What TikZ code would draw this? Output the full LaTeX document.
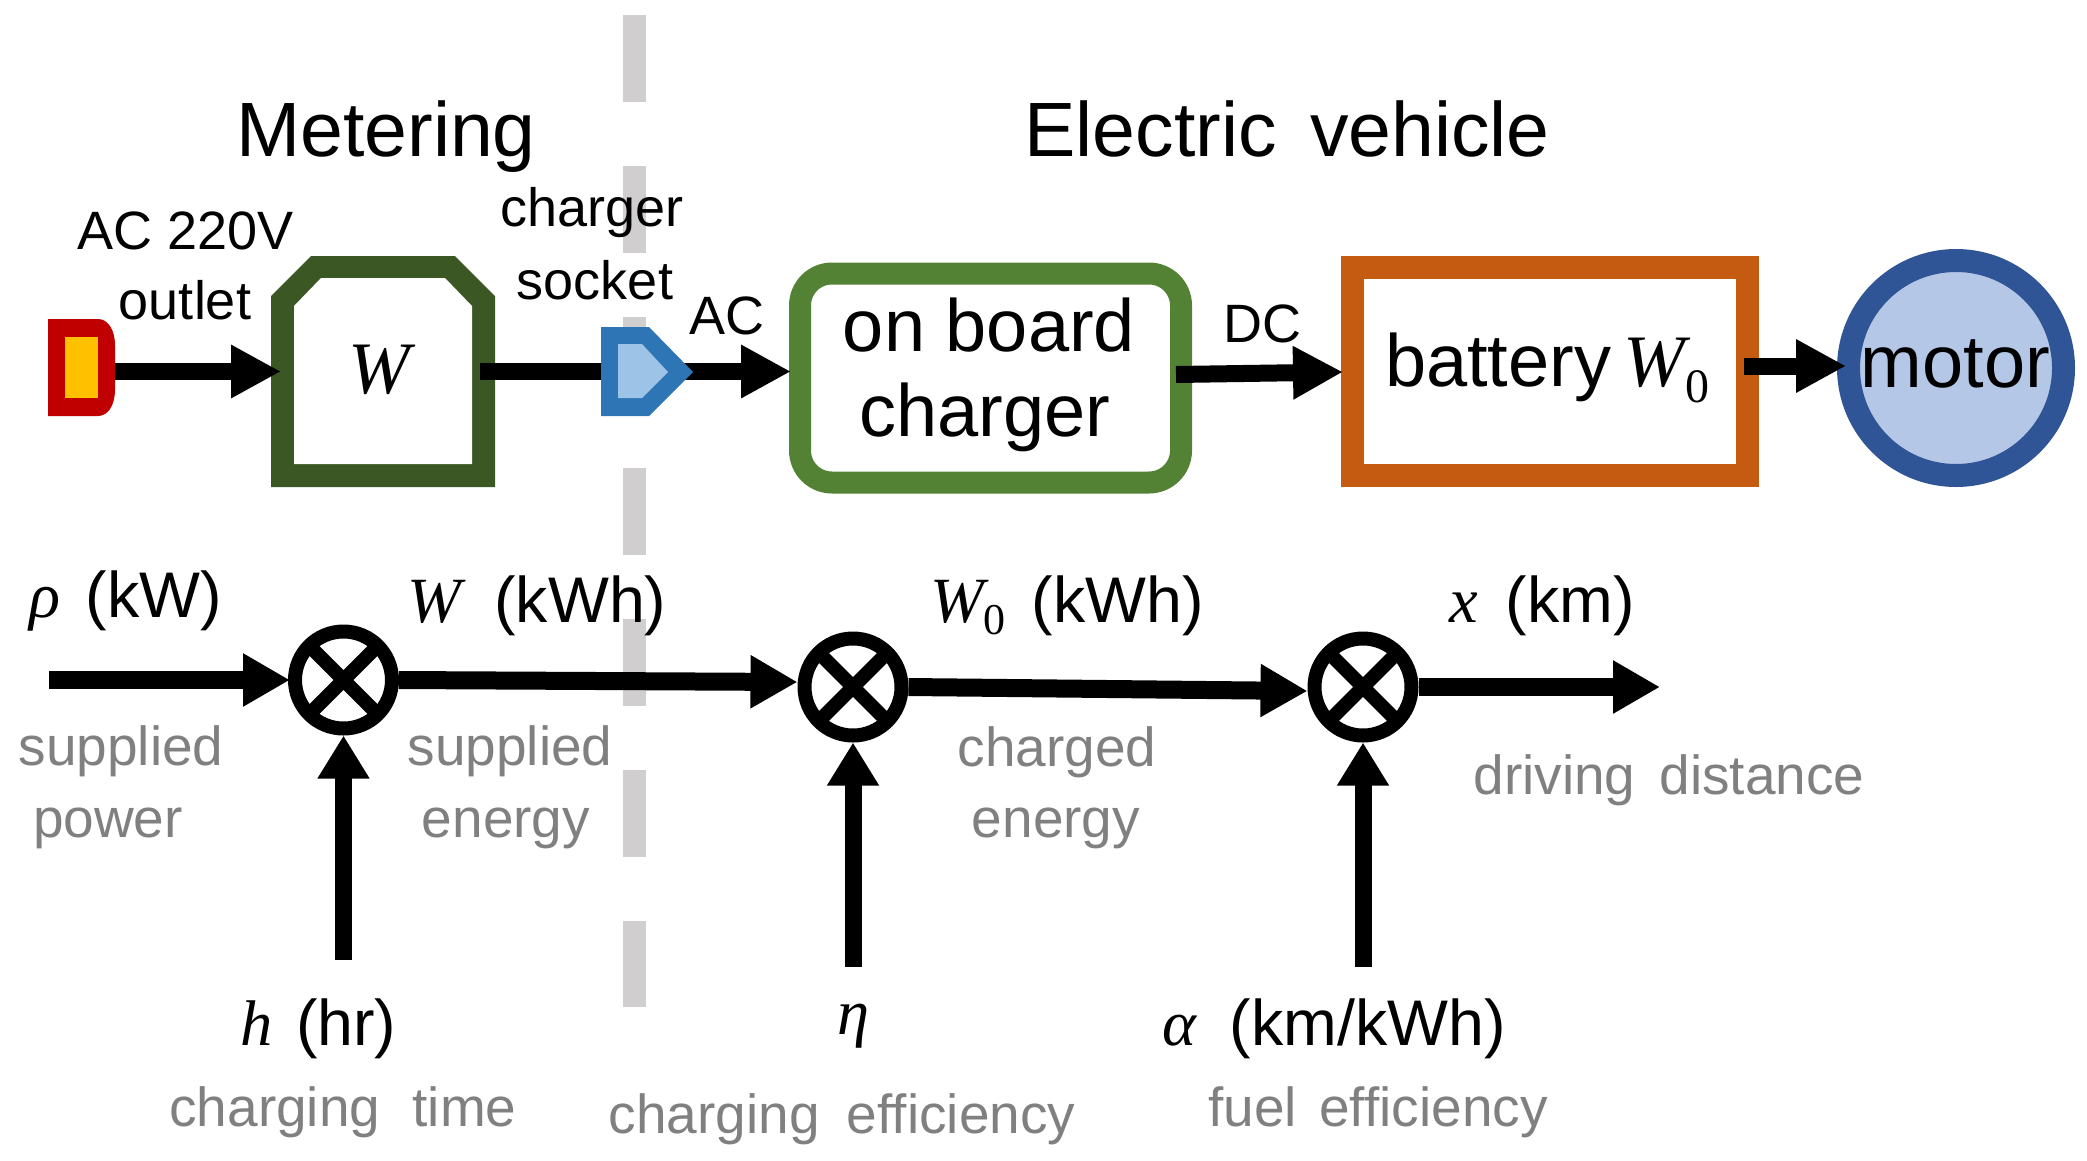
\documentclass[tikz,border=0pt]{standalone}
\usepackage{fontspec}
\setmainfont{Liberation Sans}
\newfontfamily\mathlike{Liberation Serif}
\usetikzlibrary{arrows.meta,calc}
\definecolor{cRed}{HTML}{C00000}
\definecolor{cYel}{HTML}{FFC000}
\definecolor{cWg}{HTML}{3B5724}
\definecolor{cBlu}{HTML}{2E75B6}
\definecolor{cBll}{HTML}{9DC3E6}
\definecolor{cChg}{HTML}{548235}
\definecolor{cBat}{HTML}{C55A11}
\definecolor{cMot}{HTML}{2F5597}
\definecolor{cMol}{HTML}{B4C7E7}
\definecolor{cDash}{HTML}{D0CECE}
\definecolor{cGr}{HTML}{808080}
\newcommand{\vv}[1]{{\mathlike\itshape #1}}
\newcommand{\gap}[1]{\hspace*{#1pt}}
\tikzset{
  x=1pt,y=-1pt,
  every node/.style={inner sep=0pt,outer sep=0pt},
  flow/.style={line width=17pt,draw=black,-{Triangle[length=50pt,width=50pt]}},
  flowb/.style={line width=18pt,draw=black,-{Triangle[length=47pt,width=50pt]}},
  flowu/.style={line width=17pt,draw=black,-{Triangle[length=43pt,width=49pt]}},
  head/.style={font=\fontsize{77}{77}\selectfont,anchor=base},
  inbox/.style={font=\fontsize{74}{74}\selectfont,anchor=base},
  lab/.style={font=\fontsize{54}{54}\selectfont,anchor=base},
  var/.style={font=\fontsize{64.5}{64.5}\selectfont,anchor=base},
  note/.style={font=\fontsize{55}{55}\selectfont,anchor=base,text=cGr},
  mult/.style={circle,draw=black,line width=14pt,minimum size=97pt,fill=white,outer sep=7pt},
  cross/.style={line width=14pt,draw=black,shorten >=4pt,shorten <=4pt},
}
\begin{document}
\begin{tikzpicture}
\useasboundingbox (0,0) rectangle (2087,1160);
% divider
\coordinate (dt) at (634.5,15);
\coordinate (db) at (634.5,1007);
\draw[cDash,line width=23pt,dash pattern=on 87pt off 64pt] (dt) -- (db);
% outlet
\fill[cRed] (48,319) -- (98,319) .. controls (108,319) and (115,330) .. (115,345) -- (115,390) .. controls (115,405) and (108,416) .. (98,416) -- (48,416) -- cycle;
\fill[cYel] (65,337) rectangle (98,398);
\node[minimum width=67pt,minimum height=97pt] (outlet) at (81.5,367.5) {};
% W meter
\fill[cWg] (311,256) -- (455,256) -- (495,296) -- (495,487) -- (271,487) -- (271,296) -- cycle;
\fill[white] (321,278) -- (445,278) -- (472,306) -- (472,464) -- (294,464) -- (294,306) -- cycle;
\node[minimum width=224pt,minimum height=231pt,font=\fontsize{74}{74}\selectfont] (W) at (383,370) {\vv{W}\gap{8}};
% socket placeholder
\node[minimum width=92pt,minimum height=89pt] (socket) at (647,371.5) {};
% charger
\node[rectangle,rounded corners=32pt,draw=cChg,line width=22pt,minimum width=381pt,minimum height=209pt,outer sep=11pt] (chg) at (990.5,378) {};
\node[inbox] (t1) at (989,351) {on board};
\node[inbox] (t2) at (985,436) {charger};
% battery
\node[rectangle,draw=cBat,line width=23pt,minimum width=395pt,minimum height=208pt,outer sep=11.5pt] (bat) at (1550,371.5) {};
\node[inbox,anchor=base west] (t3) at (1385,386) {battery\,\vv{W}\raisebox{-0.22em}{\fontsize{48}{48}\selectfont\mathlike 0}};
% motor
\node[circle,draw=cMot,fill=cMol,line width=23pt,minimum size=215pt,outer sep=11.5pt] (mot) at (1956,368) {};
\node[inbox] (t4) at (1955.5,387) {motor};
% top connectors
\draw[flow] ([yshift=-4pt]outlet.east) -- ([xshift=10pt,yshift=-4pt]W.west |- outlet.east);
\coordinate (s0) at (480,371.5);
\draw[line width=17pt] (s0) -- (socket.west);
\draw[flow] ([xshift=-20pt]socket.east) -- ([xshift=2pt]chg.west |- socket.east);
\coordinate (a2) at (1176,374.5);
\draw[flow] (a2) -- ([xshift=2pt,yshift=2.5pt]bat.west |- a2);
\coordinate (a3) at (1744,366);
\draw[flow] (a3) -- ([xshift=9pt]mot.west |- a3);
% socket on top of its connectors
\fill[cBlu] (601,327) -- (649,327) -- (693,372) -- (649,416) -- (601,416) -- cycle;
\fill[cBll] (618,344) -- (642,344) -- (668,372) -- (642,398) -- (618,398) -- cycle;
% multipliers
\node[mult] (m1) at (343.5,680) {};
\node[mult] (m2) at (853,687) {};
\node[mult] (m3) at (1363,687) {};
\foreach \m in {m1,m2,m3}{
  \draw[cross] (\m.north west) -- (\m.south east);
  \draw[cross] (\m.north east) -- (\m.south west);
}
\coordinate (r0) at (49,680);
\coordinate (out) at (1660,687);
\coordinate (h0) at (343.5,959.5);
\coordinate (e0) at (853,967);
\coordinate (f0) at (1363,967);
\draw[flowb] (r0) -- ([xshift=2pt]m1.west);
\draw[flowb] (m1.east) -- ([yshift=5pt]m2.west);
\draw[flowb] (m2.east) -- ([yshift=-4pt]m3.west);
\draw[flowb] (m3) -- (out);
\draw[flowu] (h0) -- (m1);
\draw[flowu] (e0) -- (m2);
\draw[flowu] (f0) -- (m3);
% headings
\node[head] (hm) at (386,156) {Metering};
\node[head] (he) at (1287,156) {Electric\gap{12} vehicle};
\node[lab] (l1) at (186,249) {AC 220V};
\node[lab] (l2) at (185,319) {outlet};
\node[lab] (l3) at (592,226) {charger};
\node[lab] (l4) at (595,299) {socket};
\node[lab] (l5) at (727,334) {AC};
\node[lab] (l6) at (1262,342) {DC};
% variables
\node[var,anchor=base west] (v1) at (29,617) {\vv{ρ}\gap{8} (kW)};
\node[var,anchor=base west] (v2) at (407,622) {\vv{W}\gap{5} \,(kWh)};
\node[var,anchor=base west] (v3) at (930,622) {\vv{W}\raisebox{-0.2em}{\fontsize{44}{44}\selectfont\mathlike 0}\gap{8} (kWh)};
\node[var,anchor=base west] (v4) at (1449,622) {\vv{x}\gap{10} (km)};
\node[var,anchor=base west] (v5) at (240,1045) {\vv{h}\gap{6} (hr)};
\node[var,anchor=base] (v6) at (853,1034) {\vv{η}};
\node[var,anchor=base west] (v7) at (1162,1045) {\vv{α}\gap{16} (km/kWh)};
% notes
\node[note] (n1) at (121,765) {supplied};
\node[note] (n2) at (108,837) {power};
\node[note] (n3) at (510,765) {supplied};
\node[note] (n4) at (506,837) {energy};
\node[note] (n5) at (1057,766) {charged};
\node[note] (n6) at (1056,837) {energy};
\node[note] (n7) at (1669,794) {driving\gap{9} distance};
\node[note] (n8) at (343,1126) {charging\gap{17} time};
\node[note] (n9) at (842,1133) {charging\gap{12} efficiency};
\node[note] (n10) at (1378,1126) {fuel\gap{7} efficiency};
\end{tikzpicture}
\end{document}
